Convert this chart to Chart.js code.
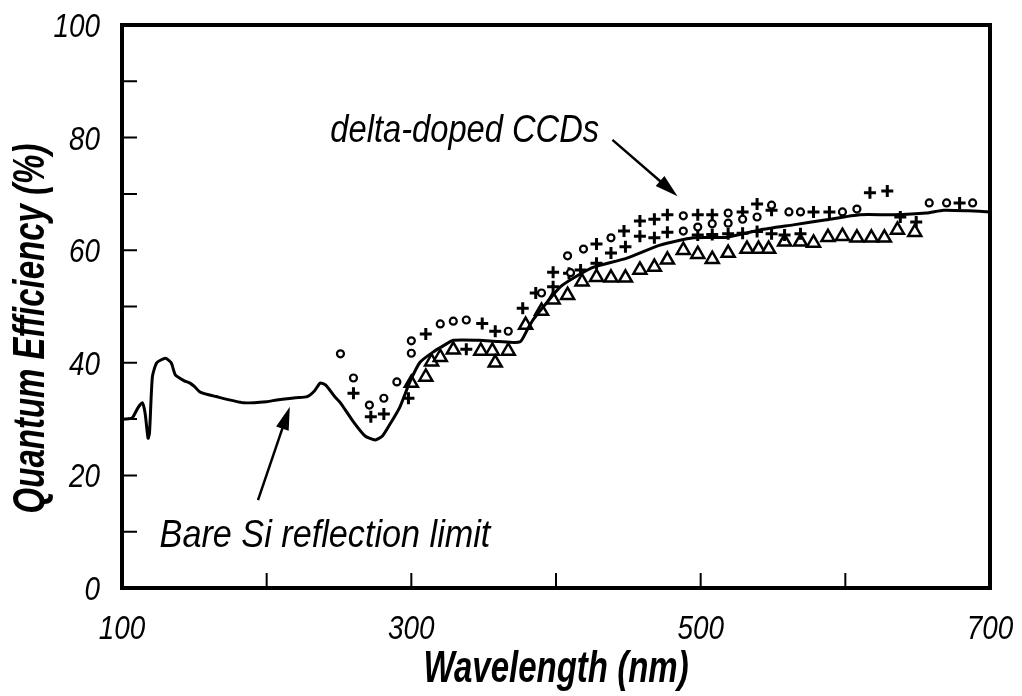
<!DOCTYPE html>
<html>
<head>
<meta charset="utf-8">
<script src="https://cdn.jsdelivr.net/npm/chart.js@4.4.1/dist/chart.umd.min.js"></script>
<style>
  html, body { margin: 0; padding: 0; background: #fff; }
  #wrap { width: 1022px; height: 696px; }
</style>
</head>
<body>
<div id="wrap"><canvas id="qe"></canvas></div>
<script>
// bare Si reflection limit (solid curve)
const curveWl = [100, 102, 107, 111, 114, 116, 118, 119, 121, 124, 130, 134, 137, 143, 147, 150, 154, 165, 184, 200, 207, 220, 228, 233, 237, 241, 247, 251, 260, 268, 275, 280, 285, 292, 299, 306, 315, 322, 329, 347, 360, 375, 380, 384, 393, 403, 415, 426, 449, 472, 495, 518, 541, 564, 587, 610, 633, 656, 668, 685, 700];
const curveQe = [30.0, 30.0, 30.2, 32.0, 32.9, 31.0, 26.6, 27.5, 37.5, 40.0, 40.8, 40.0, 37.8, 36.8, 36.4, 35.8, 34.8, 34.0, 32.9, 33.1, 33.4, 33.8, 34.0, 35.0, 36.4, 36.0, 34.0, 32.9, 29.5, 27.0, 26.3, 27.0, 29.0, 32.1, 36.6, 40.1, 41.9, 43.0, 44.0, 44.0, 43.8, 43.7, 45.8, 47.6, 50.5, 53.5, 55.5, 57.0, 58.6, 60.9, 62.2, 62.3, 63.6, 64.5, 65.4, 66.3, 66.3, 66.6, 67.1, 67.0, 66.8];

// delta-doped CCD measurements
const circleWl = [251, 260, 271, 281, 290, 300, 300, 320, 329, 338, 367, 390, 408, 410, 419, 438, 488, 488, 498, 508, 519, 519, 529, 539, 549, 561, 569, 598, 608, 658, 670, 688];
const circleQe = [41.6, 37.3, 32.5, 33.7, 36.6, 41.7, 43.9, 46.9, 47.4, 47.6, 45.6, 52.4, 59.0, 56.0, 60.2, 62.2, 66.1, 63.4, 64.1, 64.7, 66.6, 64.8, 65.5, 65.9, 68.0, 66.8, 66.8, 66.8, 67.3, 68.4, 68.4, 68.4];

const plusWl = [260, 272, 281, 298, 310, 338, 349, 358, 377, 386, 398, 398, 409, 417, 428, 428, 438, 447, 448, 458, 458, 468, 468, 477, 477, 498, 498, 508, 508, 519, 529, 529, 539, 539, 549, 549, 558, 569, 578, 589, 617, 629, 638, 649, 679];
const plusQe = [34.6, 30.4, 30.9, 33.7, 45.1, 42.4, 47.0, 45.6, 49.7, 52.4, 56.1, 53.5, 55.9, 56.5, 61.1, 57.7, 59.5, 63.4, 60.6, 65.2, 62.5, 65.5, 62.2, 66.3, 63.2, 66.3, 62.7, 66.3, 62.8, 62.9, 66.8, 63.0, 68.2, 63.3, 67.1, 62.9, 62.7, 62.9, 66.8, 66.8, 70.2, 70.5, 65.9, 65.0, 68.4];

const triWl = [300, 310, 314, 320, 329, 348, 356, 358, 367, 379, 390, 398, 408, 418, 428, 438, 448, 458, 468, 477, 488, 498, 508, 519, 532, 540, 547, 558, 569, 578, 588, 598, 608, 618, 627, 636, 648];
const triQe = [36.4, 37.5, 40.2, 41.0, 42.3, 42.1, 42.1, 40.0, 42.1, 46.7, 49.2, 51.2, 52.0, 54.4, 55.2, 55.1, 55.1, 56.5, 57.0, 58.3, 60.0, 59.3, 58.4, 59.5, 60.2, 60.2, 60.2, 61.5, 61.5, 61.3, 62.3, 62.5, 62.2, 62.2, 62.2, 63.6, 63.2];

const xLabels = [100, 300, 500, 700];
const yLabels = [0, 20, 40, 60, 80, 100];
const xTitle = 'Wavelength (nm)';
const yTitle = 'Quantum Efficiency (%)';

const notes = [
  { text: 'delta-doped CCDs', x: 244, y: 79.3, sx: 0.86, from: [439, 79.6], to: [484, 69.6] },
  { text: 'Bare Si reflection limit', x: 126, y: 7.3, sx: 0.9, from: [194, 15.6], to: [216, 32.2] }
];

const FONT = '"Liberation Sans", Arial, sans-serif';

function pts(xs, ys) {
  return xs.map((x, i) => ({ x: x, y: ys[i] }));
}

// condensed look: squeeze the glyphs horizontally
function narrow(ctx, text, x, y, sx, align, rot) {
  ctx.save();
  ctx.translate(x, y);
  if (rot) ctx.rotate(rot);
  ctx.scale(sx, 1);
  ctx.textAlign = align;
  ctx.fillText(text, 0, 0);
  ctx.restore();
}

const frame = {
  id: 'frame',
  afterDatasetsDraw(chart) {
    const { ctx, chartArea: a, scales: { x, y } } = chart;
    ctx.save();
    ctx.strokeStyle = '#000';
    ctx.fillStyle = '#000';
    ctx.lineCap = 'butt';
    // inward ticks
    ctx.lineWidth = 2;
    ctx.beginPath();
    y.ticks.forEach(t => {
      const py = y.getPixelForValue(t.value);
      if (t.value > 0 && t.value < 100) { ctx.moveTo(a.left, py); ctx.lineTo(a.left + 15, py); }
    });
    x.ticks.forEach(t => {
      const px = x.getPixelForValue(t.value);
      if (t.value > 100 && t.value < 700) { ctx.moveTo(px, a.bottom); ctx.lineTo(px, a.bottom - 15); }
    });
    ctx.stroke();
    ctx.lineWidth = 4;
    ctx.strokeRect(a.left, a.top, a.right - a.left, a.bottom - a.top);

    // tick labels
    ctx.textBaseline = 'alphabetic';
    ctx.font = 'italic 34px ' + FONT;
    x.ticks.forEach(t => {
      if (xLabels.includes(t.value)) narrow(ctx, String(t.value), x.getPixelForValue(t.value), a.bottom + 51, 0.82, 'center');
    });
    y.ticks.forEach(t => {
      if (yLabels.includes(t.value)) narrow(ctx, String(t.value), a.left - 22, y.getPixelForValue(t.value) + 12, 0.82, 'right');
    });

    // axis titles
    ctx.font = 'italic bold 44px ' + FONT;
    narrow(ctx, xTitle, (a.left + a.right) / 2, 682, 0.75, 'center');
    narrow(ctx, yTitle, 44, (a.top + a.bottom) / 2 + 22, 0.75, 'center', -Math.PI / 2);

    // annotations
    ctx.font = 'italic 38px ' + FONT;
    notes.forEach(n => {
      narrow(ctx, n.text, x.getPixelForValue(n.x), y.getPixelForValue(n.y), n.sx, 'left');
      const x0 = x.getPixelForValue(n.from[0]), y0 = y.getPixelForValue(n.from[1]);
      const x1 = x.getPixelForValue(n.to[0]), y1 = y.getPixelForValue(n.to[1]);
      const ang = Math.atan2(y1 - y0, x1 - x0);
      ctx.lineWidth = 2.5;
      ctx.beginPath();
      ctx.moveTo(x0, y0);
      ctx.lineTo(x1 - 14 * Math.cos(ang), y1 - 14 * Math.sin(ang));
      ctx.stroke();
      ctx.beginPath();
      ctx.moveTo(x1, y1);
      ctx.lineTo(x1 - 24 * Math.cos(ang - 0.28), y1 - 24 * Math.sin(ang - 0.28));
      ctx.lineTo(x1 - 24 * Math.cos(ang + 0.28), y1 - 24 * Math.sin(ang + 0.28));
      ctx.closePath();
      ctx.fill();
    });
    ctx.restore();
  }
};

function fixBox(w, h) {
  return s => {
    if (w) s.width = w;
    if (h) s.height = h;
    s.paddingLeft = s.paddingRight = s.paddingTop = s.paddingBottom = 0;
  };
}

new Chart(document.getElementById('qe'), {
  type: 'scatter',
  data: {
    datasets: [
      {
        type: 'line',
        data: pts(curveWl, curveQe),
        borderColor: '#000',
        borderWidth: 3,
        pointRadius: 0,
        tension: 0.2,
        fill: false
      },
      {
        data: pts(circleWl, circleQe),
        pointStyle: 'circle',
        pointRadius: 3.5,
        pointBorderWidth: 2.2,
        pointBorderColor: '#000',
        pointBackgroundColor: '#fff'
      },
      {
        data: pts(plusWl, plusQe),
        pointStyle: 'cross',
        pointRadius: 6,
        pointBorderWidth: 3,
        pointBorderColor: '#000'
      },
      {
        data: pts(triWl, triQe),
        pointStyle: 'triangle',
        pointRadius: 7.5,
        pointBorderWidth: 2.5,
        pointBorderColor: '#000',
        pointBackgroundColor: '#fff'
      }
    ]
  },
  options: {
    animation: false,
    responsive: true,
    maintainAspectRatio: false,
    layout: { padding: { top: 25, right: 32, left: 0, bottom: 0 } },
    plugins: { legend: { display: false }, tooltip: { enabled: false } },
    scales: {
      x: {
        type: 'linear',
        min: 100,
        max: 700,
        afterFit: fixBox(0, 108),
        grid: { display: false, drawTicks: false },
        border: { display: false },
        ticks: { stepSize: 100, display: false }
      },
      y: {
        min: 0,
        max: 100,
        afterFit: fixBox(122, 0),
        grid: { display: false, drawTicks: false },
        border: { display: false },
        ticks: { stepSize: 10, display: false }
      }
    }
  },
  plugins: [frame]
});
</script>
</body>
</html>
